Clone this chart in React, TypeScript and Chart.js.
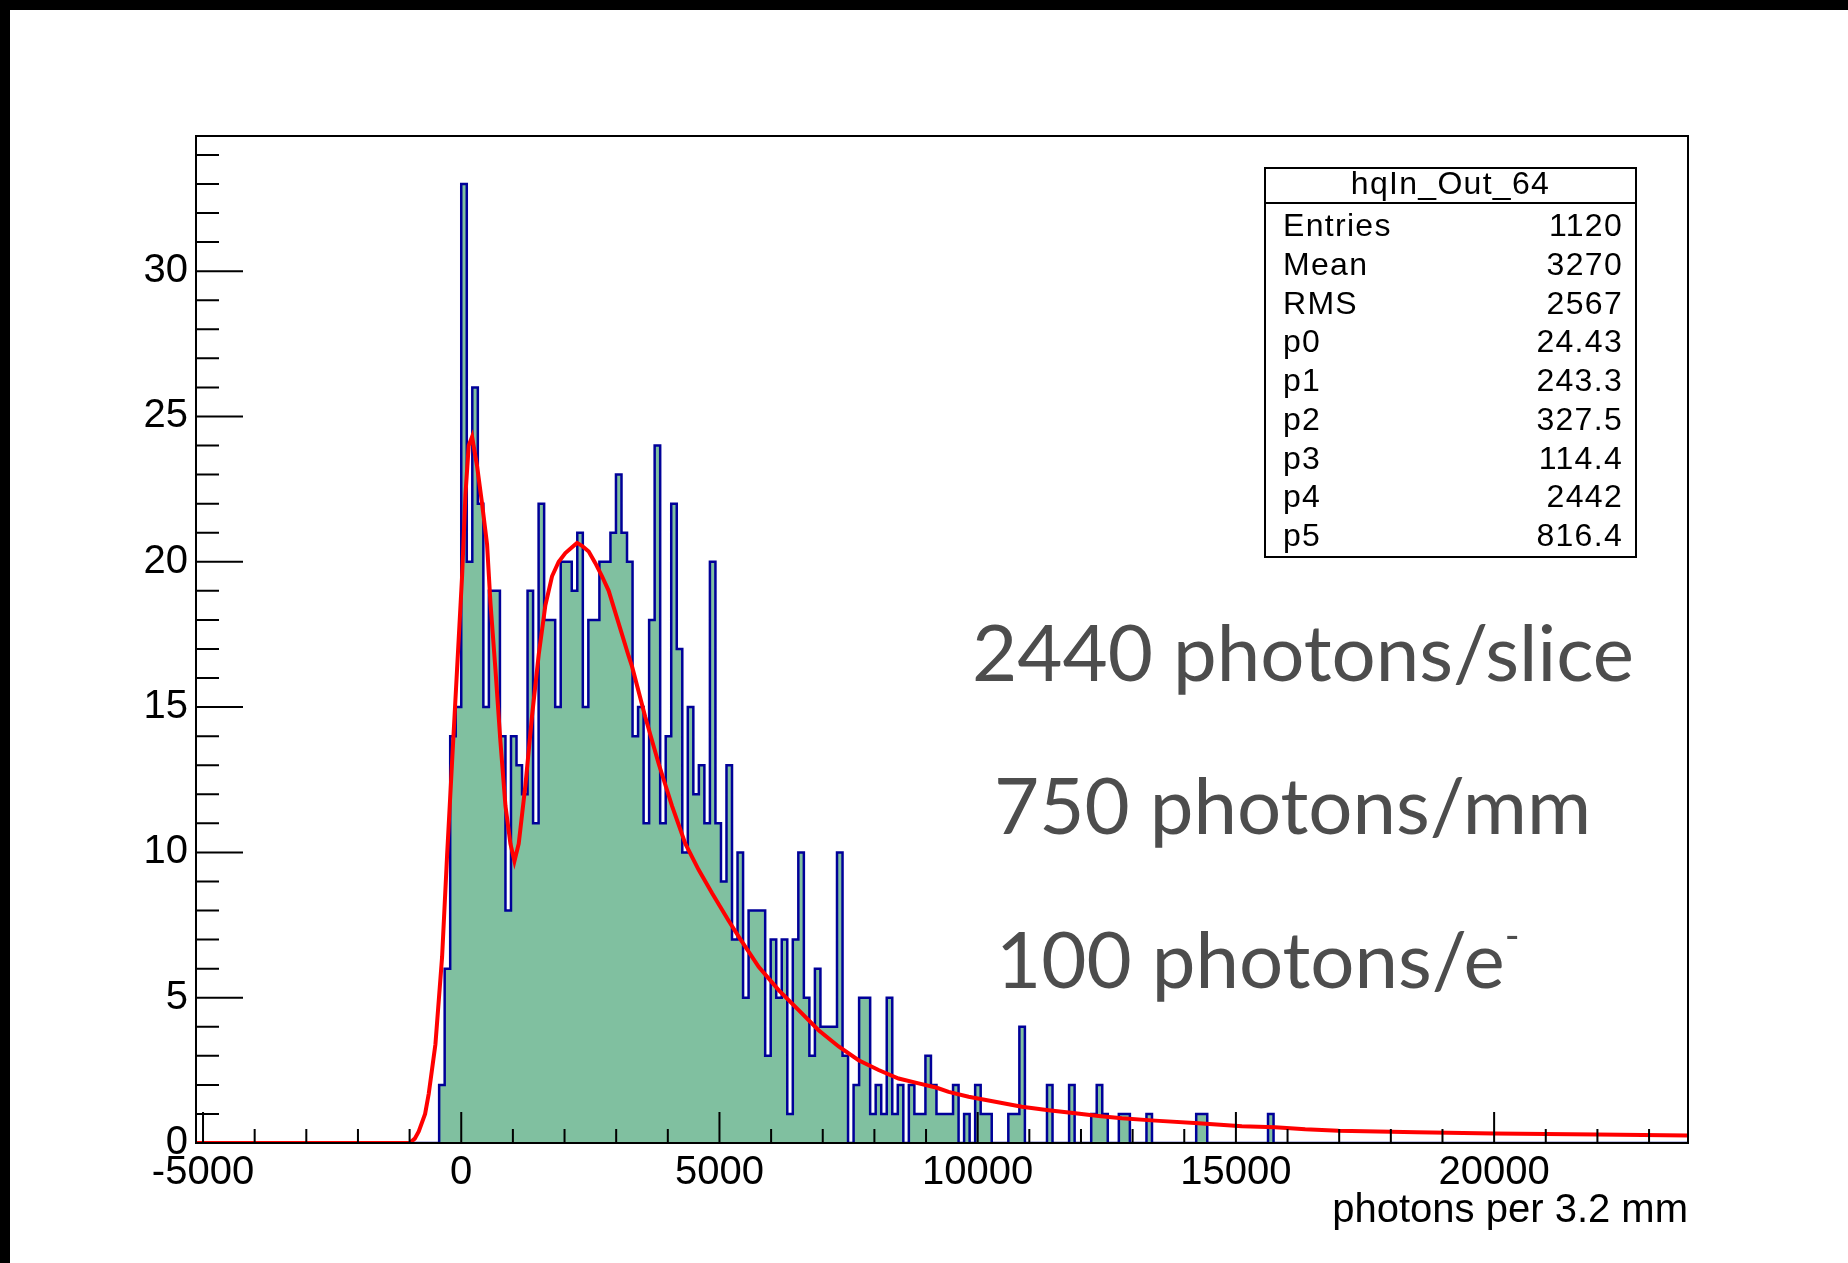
import React, { useEffect, useRef } from "react";
import { Chart, registerables } from "chart.js";

Chart.register(...registerables);

// ---------- data ----------
const HIST_NAME = "hqIn_Out_64";
const X_TITLE = "photons per 3.2 mm";

const BIN_WIDTH = 107;
const FIRST_BIN_LOW = -535; // lower edge of the first listed bin
const COUNTS = [
  0, 2, 6, 14, 15,
  33, 20, 26, 22, 15, 19, 19, 14, 8, 14,
  13, 12, 19, 11, 22, 18, 18, 15, 20, 20,
  19, 21, 15, 18, 18, 20, 20, 21, 23, 21,
  20, 14, 15, 11, 18, 24, 11, 14, 22, 17,
  10, 15, 12, 13, 11, 20, 11, 9, 13, 7,
  10, 5, 8, 8, 8, 3, 7, 5, 7, 1,
  7, 10, 5, 3, 6, 4, 4, 4, 10, 3,
  0, 2, 5, 5, 1, 2, 1, 5, 1, 2,
  0, 2, 1, 1, 3, 2, 1, 1, 1, 2,
  0, 1, 0, 2, 1, 1, 0, 0, 0, 1,
  1, 4, 0, 0, 0, 0, 2, 0, 0, 0,
  2, 0, 0, 0, 1, 2, 1, 0, 0, 1,
  1, 0, 0, 0, 1, 0, 0, 0, 0, 0,
  0, 0, 0, 1, 1, 0, 0, 0, 0, 0,
  0, 0, 0, 0, 0, 0, 1,
];

const X_MIN = -5136;
const X_MAX = 23754;
const Y_MIN = 0;
const Y_MAX = 34.65;
const X_TICKS = [-5000, 0, 5000, 10000, 15000, 20000];
const Y_TICKS = [0, 5, 10, 15, 20, 25, 30];
const X_MINOR_STEP = 1000;
const Y_MINOR_STEP = 1;

const FIT_X = [
  -5136, -1000, -900, -823, -700, -629, -500, -371, -274, -178, -81, 16, 81, 145, 210,
  306, 403, 500, 565, 662, 759, 856, 952, 1030, 1113, 1242, 1371, 1500, 1629, 1758,
  1887, 2016, 2145, 2242, 2339, 2468, 2597, 2726, 2855, 2984, 3113, 3242, 3307, 3565,
  3823, 4081, 4339, 4597, 4855, 5178, 5372, 5759, 6146, 6533, 6920, 7307, 7694, 8081,
  8468, 8855, 9210, 9437, 9824, 10340, 10856, 11373, 11889, 12340, 12792, 13437, 14276,
  15115, 15761, 16342, 16987, 18500, 20000, 22000, 23754,
];
const FIT_Y = [
  0, 0, 0.15, 0.4, 1.0, 1.7, 3.4, 6.4, 9.9, 13.1, 16.3, 19.5, 22.3, 24.0, 24.3,
  23.3, 22.0, 20.6, 18.6, 16.3, 13.8, 11.6, 10.3, 9.7, 10.3, 12.3, 14.7, 16.8, 18.5, 19.5,
  20.0, 20.3, 20.5, 20.65, 20.55, 20.35, 19.95, 19.5, 19.0, 18.25, 17.5, 16.75, 16.4, 14.65,
  13.05, 11.6, 10.3, 9.4, 8.6, 7.65, 7.1, 6.06, 5.26, 4.57, 3.88, 3.32, 2.85, 2.51,
  2.22, 2.05, 1.9, 1.76, 1.59, 1.42, 1.25, 1.13, 1.02, 0.93, 0.85, 0.77, 0.68,
  0.58, 0.54, 0.47, 0.42, 0.37, 0.33, 0.29, 0.26,
];

const STAT_LABELS = ["Entries", "Mean", "RMS", "p0", "p1", "p2", "p3", "p4", "p5"];
const STAT_VALUES = ["1120", "3270", "2567", "24.43", "243.3", "327.5", "114.4", "2442", "816.4"];

const NOTE_LINES = ["2440 photons/slice", "750 photons/mm", "100 photons/e"];

// ---------- styling ----------
const FILL = "#80c0a0";
const OUTLINE = "#000099";
const FIT_COLOR = "#ff0000";
const AXIS_FONT = "'Liberation Sans', Arial, Helvetica, sans-serif";
const NOTE_FONT = "Lato, 'Open Sans', sans-serif";

const rootFrame = {
  id: "rootFrame",
  afterDatasetsDraw(chart: any) {
    const { ctx, chartArea: a, scales } = chart;
    const xs = scales.x;
    const ys = scales.y;
    ctx.save();
    ctx.strokeStyle = "#000";
    ctx.lineWidth = 2;
    ctx.strokeRect(a.left, a.top, a.right - a.left, a.bottom - a.top);
    ctx.beginPath();
    for (let v = Y_MIN; v <= Y_MAX; v += Y_MINOR_STEP) {
      const p = ys.getPixelForValue(v);
      const len = Y_TICKS.includes(v) ? 47 : 23;
      ctx.moveTo(a.left, p);
      ctx.lineTo(a.left + len, p);
    }
    const start = Math.ceil(X_MIN / X_MINOR_STEP) * X_MINOR_STEP;
    for (let v = start; v <= X_MAX; v += X_MINOR_STEP) {
      const p = xs.getPixelForValue(v);
      const len = X_TICKS.includes(v) ? 31 : 14;
      ctx.moveTo(p, a.bottom);
      ctx.lineTo(p, a.bottom - len);
    }
    ctx.stroke();
    ctx.restore();
  },
};

export default function App() {
  const ref = useRef<HTMLCanvasElement>(null);

  useEffect(() => {
    document.body.style.margin = "0";
    const steps: { x: number; y: number }[] = [
      { x: X_MIN, y: 0 },
      { x: FIRST_BIN_LOW, y: 0 },
    ];
    COUNTS.forEach((c, i) => {
      const lo = FIRST_BIN_LOW + i * BIN_WIDTH;
      steps.push({ x: lo, y: c }, { x: lo + BIN_WIDTH, y: c });
    });
    const lastHi = FIRST_BIN_LOW + COUNTS.length * BIN_WIDTH;
    steps.push({ x: lastHi, y: 0 }, { x: X_MAX, y: 0 });

    const fit = FIT_X.map((x, i) => ({ x, y: FIT_Y[i] }));

    const chart = new Chart(ref.current as HTMLCanvasElement, {
      type: "line",
      data: {
        datasets: [
          {
            label: "fit",
            data: fit,
            borderColor: FIT_COLOR,
            borderWidth: 4,
            pointRadius: 0,
            fill: false,
            tension: 0,
            order: 0,
          },
          {
            label: HIST_NAME,
            data: steps,
            borderColor: OUTLINE,
            backgroundColor: FILL,
            borderWidth: 2.5,
            borderJoinStyle: "miter",
            pointRadius: 0,
            fill: "origin",
            tension: 0,
            order: 1,
          },
        ],
      },
      options: {
        animation: false,
        responsive: false,
        devicePixelRatio: 1,
        layout: { padding: { top: 136, right: 160, left: 0, bottom: 0 } },
        plugins: { legend: { display: false }, tooltip: { enabled: false } },
        events: [],
        scales: {
          x: {
            type: "linear",
            min: X_MIN,
            max: X_MAX,
            grid: { display: false, drawTicks: false },
            border: { display: false },
            afterBuildTicks: (s: any) => {
              s.ticks = X_TICKS.map((v) => ({ value: v }));
            },
            afterFit: (s: any) => {
              s.height = 120;
            },
            ticks: {
              autoSkip: false,
              maxRotation: 0,
              padding: 6,
              color: "#000",
              font: { family: AXIS_FONT, size: 40 },
              callback: (v: any) => String(v),
            },
            title: {
              display: true,
              text: X_TITLE,
              align: "end",
              color: "#000",
              font: { family: AXIS_FONT, size: 40 },
              padding: { top: 0, bottom: 28 },
            },
          },
          y: {
            type: "linear",
            min: Y_MIN,
            max: Y_MAX,
            grid: { display: false, drawTicks: false },
            border: { display: false },
            afterBuildTicks: (s: any) => {
              s.ticks = Y_TICKS.map((v) => ({ value: v }));
            },
            afterFit: (s: any) => {
              s.width = 196;
            },
            ticks: {
              padding: 8,
              color: "#000",
              font: { family: AXIS_FONT, size: 40 },
              callback: (v: any) => String(v),
            },
          },
        },
      },
      plugins: [rootFrame],
    } as any);
    return () => chart.destroy();
  }, []);

  const noteStyle = (left: number, top: number): React.CSSProperties => ({
    position: "absolute",
    left,
    top,
    fontFamily: NOTE_FONT,
    fontWeight: 400,
    fontSize: 78,
    lineHeight: "78px",
    color: "#4d4d4d",
    whiteSpace: "nowrap",
  });

  const statFont: React.CSSProperties = {
    position: "absolute",
    fontFamily: AXIS_FONT,
    fontSize: 32,
    lineHeight: "32px",
    letterSpacing: "1.3px",
    color: "#000",
    whiteSpace: "nowrap",
  };

  return (
    <div style={{ position: "relative", width: 1848, height: 1263, background: "#fff", overflow: "hidden" }}>
      <canvas ref={ref} width={1848} height={1263} style={{ position: "absolute", left: 0, top: 0 }} />
      <div style={{ position: "absolute", left: 0, top: 0, width: 1848, height: 10, background: "#000" }} />
      <div style={{ position: "absolute", left: 0, top: 0, width: 10, height: 1263, background: "#000" }} />

      <div
        style={{
          position: "absolute",
          left: 1264,
          top: 167,
          width: 373,
          height: 391,
          border: "2px solid #000",
          boxSizing: "border-box",
          background: "#fff",
        }}
      >
        <div style={{ ...statFont, left: 0, right: 0, top: -2, textAlign: "center" }}>{HIST_NAME}</div>
        <div style={{ position: "absolute", left: 0, right: 0, top: 33, height: 2, background: "#000" }} />
        {STAT_LABELS.map((lab, i) => (
          <React.Fragment key={lab}>
            <div style={{ ...statFont, left: 17, top: 40 + i * 38.75 }}>{lab}</div>
            <div style={{ ...statFont, right: 12, top: 40 + i * 38.75, textAlign: "right" }}>{STAT_VALUES[i]}</div>
          </React.Fragment>
        ))}
      </div>

      <div style={noteStyle(972, 612)}>{NOTE_LINES[0]}</div>
      <div style={noteStyle(994, 765)}>{NOTE_LINES[1]}</div>
      <div style={noteStyle(996, 919)}>
        {NOTE_LINES[2]}
        <span style={{ fontSize: 40, position: "relative", top: -38 }}>-</span>
      </div>
    </div>
  );
}
